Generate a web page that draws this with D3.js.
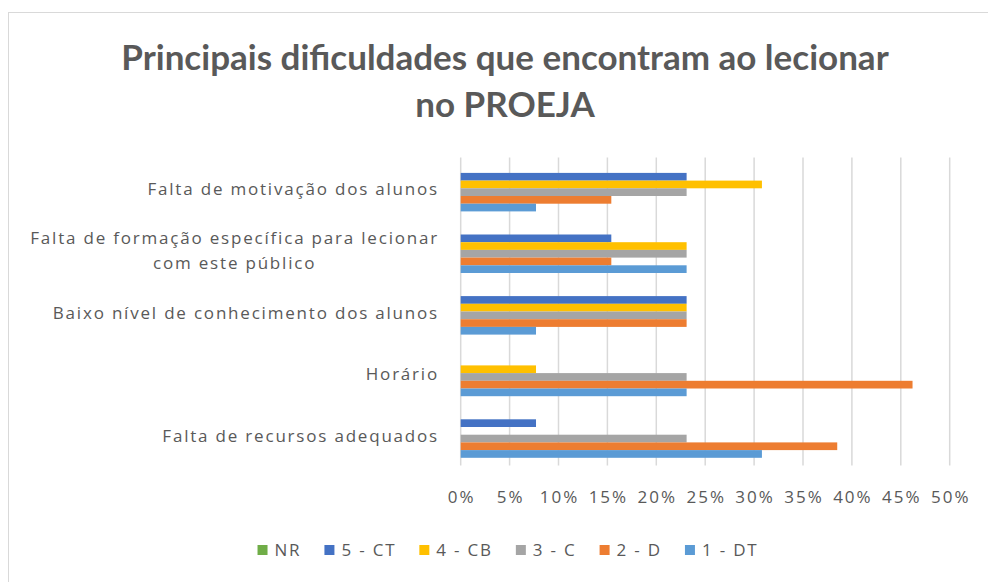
<!DOCTYPE html>
<html>
<head>
<meta charset="utf-8">
<script src="https://cdn.jsdelivr.net/npm/d3@7"></script>
<style>
  body { margin: 0; background: #fff; }
  text { font-family: "Open Sans", Lato, sans-serif; fill: #595959; }
  .title { font-family: Lato, "Open Sans", sans-serif; }
  .lbl { letter-spacing: 1.8px; }
  .tick { letter-spacing: 2px; }
</style>
</head>
<body>
<svg width="988" height="582"></svg>
<script>
const svg = d3.select('svg');
const width = +svg.attr('width');
const height = +svg.attr('height');

// categories, top to bottom
const categories = [
    ['Falta de motivação dos alunos'],
    ['Falta de formação específica para lecionar', 'com este público'],
    ['Baixo nível de conhecimento dos alunos'],
    ['Horário'],
    ['Falta de recursos adequados']
];

const series = ['NR', '5 - CT', '4 - CB', '3 - C', '2 - D', '1 - DT'];
const colors = ['#70AD47', '#4472C4', '#FFC000', '#A5A5A5', '#ED7D31', '#5B9BD5'];

// percent values per series, in category order
const nrValues = [0, 0, 0, 0, 0];
const ctValues = [23.1, 15.4, 23.1, 0, 7.7];
const cbValues = [30.8, 23.1, 23.1, 7.7, 0];
const cValues  = [23.1, 23.1, 23.1, 23.1, 23.1];
const dValues  = [15.4, 15.4, 23.1, 46.2, 38.5];
const dtValues = [7.7, 23.1, 7.7, 23.1, 30.8];

const ticks = [0, 5, 10, 15, 20, 25, 30, 35, 40, 45, 50];

const allValues = [nrValues, ctValues, cbValues, cValues, dValues, dtValues];
const data = categories.map((c, i) => ({
    key: i,
    lines: c,
    values: series.map((s, j) => ({ s, v: allValues[j][i], color: colors[j] }))
}));

// frame
svg.append('rect')
    .attr('x', 8.5).attr('y', 12.5)
    .attr('width', width + 20).attr('height', height + 20)
    .attr('fill', '#fff')
    .attr('stroke', '#d9d9d9');

// title
const title = svg.append('text')
    .attr('class', 'title')
    .attr('text-anchor', 'middle')
    .attr('font-size', 35)
    .attr('font-weight', 'bold');
title.append('tspan').attr('x', 505).attr('y', 70).text('Principais dificuldades que encontram ao lecionar');
title.append('tspan').attr('x', 505).attr('y', 117).text('no PROEJA');

const x = d3.scaleLinear().domain([0, 50]).range([460.7, 949.7]);

const y = d3.scaleBand()
    .domain(data.map(d => d.key))
    .range([157.5, 465.5])
    .paddingInner(0.25)
    .paddingOuter(0.125);

const ySub = d3.scaleBand()
    .domain(series)
    .range([0, y.bandwidth()]);

// gridlines
svg.append('g').selectAll('line').data(ticks).enter()
    .append('line')
    .attr('x1', d => x(d)).attr('x2', d => x(d))
    .attr('y1', 157.5).attr('y2', 465.5)
    .attr('stroke', '#d9d9d9')
    .attr('stroke-width', 1.5);

// x tick labels
svg.append('g').selectAll('text').data(ticks).enter()
    .append('text')
    .attr('class', 'tick')
    .attr('x', d => x(d) + 1)
    .attr('y', 503)
    .attr('text-anchor', 'middle')
    .attr('font-size', 17)
    .text(d => d + '%');

// bars
const groups = svg.append('g').selectAll('g').data(data).enter()
    .append('g')
    .attr('transform', d => `translate(0,${y(d.key)})`);

groups.selectAll('rect').data(d => d.values).enter()
    .append('rect')
    .attr('x', x(0))
    .attr('y', d => ySub(d.s))
    .attr('width', d => x(d.v) - x(0))
    .attr('height', ySub.bandwidth())
    .attr('fill', d => d.color);

// category labels
const labels = svg.append('g').selectAll('text').data(data).enter()
    .append('text')
    .attr('class', 'lbl')
    .attr('font-size', 17)
    .attr('text-anchor', 'end')
    .attr('transform', d => `translate(439,${y(d.key) + y.bandwidth() / 2})`);

labels.each(function(d) {
    const t = d3.select(this);
    const n = d.lines.length;
    const spans = d.lines.map((line, i) =>
        t.append('tspan')
            .attr('x', 0)
            .attr('y', (i - (n - 1) / 2) * 25 + 7)
            .text(line));
    if (n > 1) {
        // center wrapped lines under the longest one
        const widths = spans.map(s => s.node().getComputedTextLength());
        const maxW = Math.max(...widths);
        spans.forEach((s, i) => s.attr('x', -(maxW - widths[i]) / 2));
    }
});

// legend
const legend = svg.append('g');
const items = legend.selectAll('g').data(series).enter().append('g');
items.append('rect')
    .attr('width', 10).attr('height', 10)
    .attr('y', -5)
    .attr('fill', (d, i) => colors[i]);
items.append('text')
    .attr('class', 'lbl')
    .attr('x', 17)
    .attr('y', 6)
    .attr('font-size', 17)
    .text(d => d);

const gap = 23;
let offset = 0;
items.each(function() {
    const g = d3.select(this);
    g.attr('transform', `translate(${offset},0)`);
    offset += 17 + g.select('text').node().getComputedTextLength() + gap;
});
offset -= gap;
legend.attr('transform', `translate(${508 - offset / 2},550)`);
</script>
</body>
</html>
